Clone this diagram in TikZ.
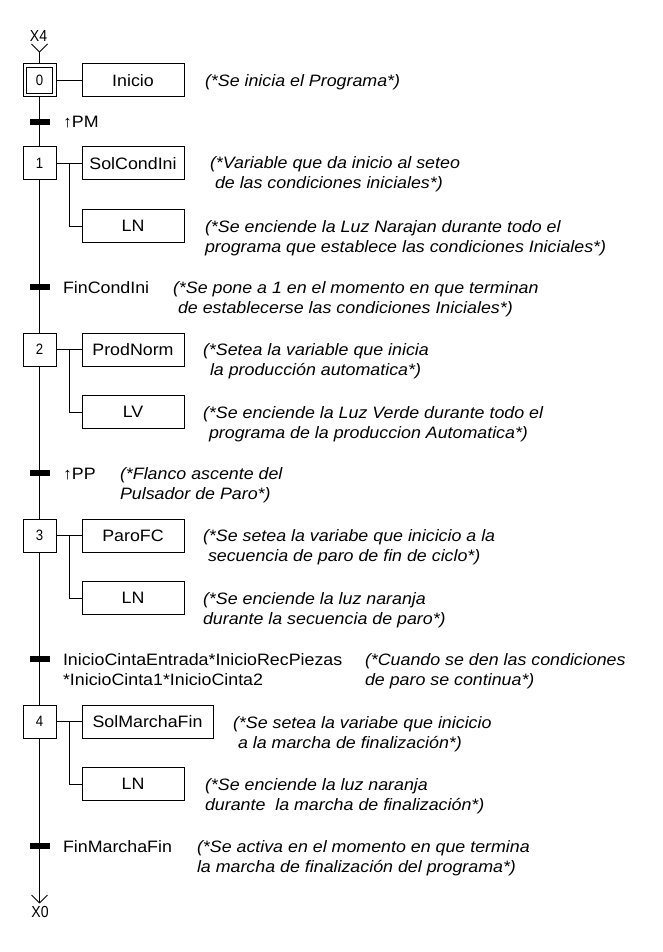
\documentclass[tikz,border=0pt]{standalone}
\usepackage{fontspec}
\setmainfont{Liberation Sans}[FakeStretch=1.08]
\newfontfamily\numfont{Liberation Sans}[FakeStretch=0.88]
\newcommand\cmtlines[2]{\begin{tabular}[t]{@{}l@{}}#1\\\relax #2\end{tabular}}
\begin{document}
\begin{tikzpicture}[x=1pt,y=-1pt,
  every node/.style={inner sep=0pt, outer sep=0pt},
  link/.style={line width=1pt},
  stepbox/.style={draw, line width=1pt, fill=white, minimum width=33pt, minimum height=33pt, font=\numfont\fontsize{15}{17}\selectfont},
  innerbox/.style={draw, line width=1pt, minimum width=26pt, minimum height=26pt, font=\numfont\fontsize{15}{17}\selectfont},
  actbox/.style={draw, line width=1pt, fill=white, minimum width=102pt, minimum height=33pt, font=\fontsize{16.5}{20}\selectfont},
  trbar/.style={fill=black, minimum width=20pt, minimum height=6pt},
  trlabel/.style={anchor=base west, font=\fontsize{16.5}{20}\selectfont},
  cmt/.style={anchor=base west, font=\itshape\fontsize{16.5}{20}\selectfont},
  xlabel/.style={font=\numfont\fontsize{16}{18}\selectfont},
]
\useasboundingbox (0,0) rectangle (662,952);
\fill[white] (0,0) rectangle (662,952);

% steps
\node[stepbox] (s0) at (39.5,80.5) {};
\node[innerbox] (s0in) at (s0.center) {0};
\node[stepbox] (s1) at (39.5,163.5) {1};
\node[stepbox] (s2) at (39.5,349.5) {2};
\node[stepbox] (s3) at (39.5,535.5) {3};
\node[stepbox] (s4) at (39.5,721.5) {4};

% transitions
\node[trbar] (t0) at (39.5,122) {};
\node[trbar] (t1) at (39.5,287) {};
\node[trbar] (t2) at (39.5,473) {};
\node[trbar] (t3) at (39.5,659) {};
\node[trbar] (t4) at (39.5,846) {};

% actions
\node[actbox] (a0) at (133,80.5) {Inicio};
\node[actbox] (a1) at (133,163.5) {SolCondIni};
\node[actbox] (a1b) at (133,226) {LN};
\node[actbox] (a2) at (133,349.5) {ProdNorm};
\node[actbox] (a2b) at (133,412) {LV};
\node[actbox] (a3) at (133,535.5) {ParoFC};
\node[actbox] (a3b) at (133,598) {LN};
\node[actbox, minimum width=131pt] (a4) at (147.5,721.5) {SolMarchaFin};
\node[actbox] (a4b) at (133,784) {LN};

% top and bottom
\coordinate (top) at (39.5,52);
\coordinate (bot) at (39.5,903);
\node[xlabel] (x4) at (38.5,36) {X4};
\node[xlabel] (x0) at (40,912) {X0};
\draw[link] (top) -- ++(-8,-8);
\draw[link] (top) -- ++(8,-8);
\draw[link] (bot) -- ++(-8,-8);
\draw[link] (bot) -- ++(8,-8);

% main line
\draw[link] (top) -- (s0.north);
\draw[link] (s0.south) -- (t0) -- (s1.north);
\draw[link] (s1.south) -- (t1) -- (s2.north);
\draw[link] (s2.south) -- (t2) -- (s3.north);
\draw[link] (s3.south) -- (t3) -- (s4.north);
\draw[link] (s4.south) -- (t4) -- (bot);

% action links
\draw[link] (s0.east) -- (a0.west);
\draw[link] (s1.east) -- (a1.west);
\draw[link] ([xshift=13pt]s1.east) |- (a1b.west);
\draw[link] (s2.east) -- (a2.west);
\draw[link] ([xshift=13pt]s2.east) |- (a2b.west);
\draw[link] (s3.east) -- (a3.west);
\draw[link] ([xshift=13pt]s3.east) |- (a3b.west);
\draw[link] (s4.east) -- (a4.west);
\draw[link] ([xshift=13pt]s4.east) |- (a4b.west);

% transition labels
\node[trlabel] (l0) at (63,128) {\char"2191 PM};
\node[trlabel] (l1) at (63,293) {FinCondIni};
\node[trlabel] (l2) at (63,479) {\char"2191 PP};
\node[trlabel] (l3) at (63,665) {\cmtlines{InicioCintaEntrada*InicioRecPiezas}{*InicioCinta1*InicioCinta2}};
\node[trlabel] (l4) at (63,852) {FinMarchaFin};

% comments
\node[cmt] (c0) at (205,87) {(*Se inicia el Programa*)};
\node[cmt] (c1) at (210,169) {\cmtlines{(*Variable que da inicio al seteo}{\hspace*{5pt}de las condiciones iniciales*)}};
\node[cmt] (c1b) at (205,232) {\cmtlines{(*Se enciende la Luz Narajan durante todo el}{programa que establece las condiciones Iniciales*)}};
\node[cmt] (ct1) at (173,293) {\cmtlines{(*Se pone a 1 en el momento en que terminan}{\hspace*{5pt}de establecerse las condiciones Iniciales*)}};
\node[cmt] (c2) at (203,355) {\cmtlines{(*Setea la variable que inicia}{\hspace*{7pt}la producción automatica*)}};
\node[cmt] (c2b) at (203,418) {\cmtlines{(*Se enciende la Luz Verde durante todo el}{\hspace*{6pt}programa de la produccion Automatica*)}};
\node[cmt] (ct2) at (120,479) {\cmtlines{(*Flanco ascente del}{Pulsador de Paro*)}};
\node[cmt] (c3) at (203,541) {\cmtlines{(*Se setea la variabe que inicicio a la}{\hspace*{5pt}secuencia de paro de fin de ciclo*)}};
\node[cmt] (c3b) at (203,604) {\cmtlines{(*Se enciende la luz naranja}{durante la secuencia de paro*)}};
\node[cmt] (ct3) at (365,665) {\cmtlines{(*Cuando se den las condiciones}{de paro se continua*)}};
\node[cmt] (c4) at (233,728) {\cmtlines{(*Se setea la variabe que inicicio}{\hspace*{5pt}a la marcha de finalización*)}};
\node[cmt] (c4b) at (205,790) {\cmtlines{(*Se enciende la luz naranja}{durante\ \ la marcha de finalización*)}};
\node[cmt] (ct4) at (197,852) {\cmtlines{(*Se activa en el momento en que termina}{la marcha de finalización del programa*)}};
\end{tikzpicture}
\end{document}
